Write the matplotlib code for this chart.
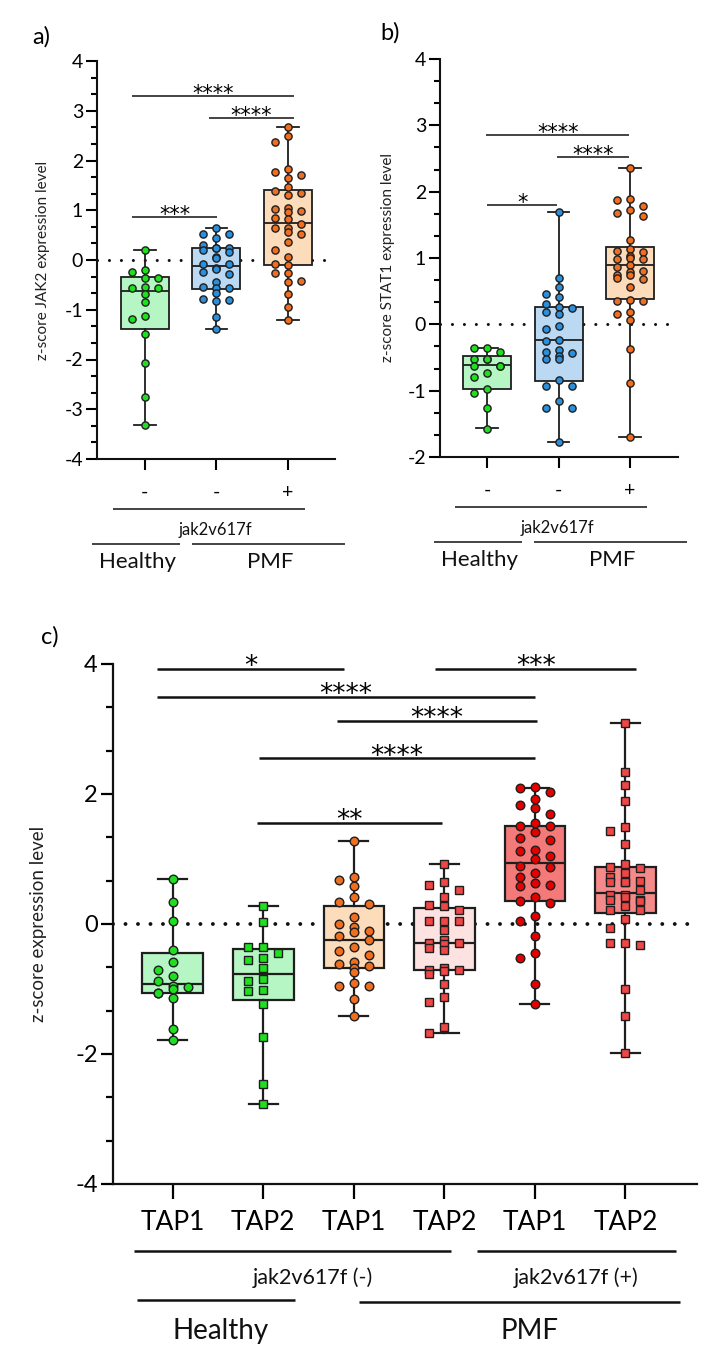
"""
Box plots de z-score (JAK2, STAT1 e TAP1/TAP2) com pontos individuais em enxame.
"""
import numpy as np
import matplotlib
matplotlib.use('Agg')
import matplotlib.pyplot as plt
import matplotlib.transforms as mtransforms
from matplotlib.ticker import MultipleLocator

plt.rcParams['font.family'] = ['Lato', 'DejaVu Sans']
plt.rcParams['axes.unicode_minus'] = False

# ---- painel a: JAK2 ----
a_healthy = [0.21, -0.21, -0.24, -0.37, -0.37, -0.54, -0.57, -0.57, -0.68, -0.85,
             -1.12, -1.18, -1.49, -2.07, -2.76, -3.31]
a_pmf_neg = [0.65, 0.52, 0.52, 0.45, 0.31, 0.25, 0.25, 0.24, 0.20, 0.17, 0.07, 0.05,
             -0.08, -0.08, -0.17, -0.19, -0.25, -0.29, -0.44, -0.55, -0.57, -0.57,
             -0.67, -0.78, -0.81, -0.82, -1.14, -1.39]
a_pmf_pos = [2.68, 2.49, 2.38, 1.82, 1.76, 1.71, 1.64, 1.47, 1.39, 1.35, 1.31, 1.04,
             1.02, 0.98, 0.97, 0.84, 0.82, 0.72, 0.65, 0.64, 0.56, 0.52, 0.37, 0.21,
             0.07, -0.08, -0.10, -0.27, -0.27, -0.42, -0.44, -0.68, -0.94, -1.21]
# min, q1, mediana, q3, max
a_box = [(-3.31, -1.39, -0.62, -0.35, 0.21),
         (-1.39, -0.58, -0.13, 0.25, 0.65),
         (-1.21, -0.11, 0.75, 1.41, 2.68)]

# ---- painel b: STAT1 ----
b_healthy = [-0.36, -0.36, -0.41, -0.52, -0.52, -0.52, -0.63, -0.63, -0.63, -0.74,
             -0.79, -0.98, -1.03, -1.26, -1.58]
b_pmf_neg = [1.69, 0.70, 0.56, 0.45, 0.41, 0.31, 0.26, 0.24, 0.18, 0.16, -0.02, -0.07,
             -0.23, -0.25, -0.38, -0.41, -0.43, -0.48, -0.53, -0.53, -0.84, -0.93,
             -0.93, -1.16, -1.26, -1.26, -1.78]
b_pmf_pos = [2.35, 1.89, 1.87, 1.78, 1.73, 1.68, 1.64, 1.27, 1.13, 1.11, 1.09, 1.03,
             1.00, 0.99, 0.99, 0.89, 0.86, 0.80, 0.79, 0.75, 0.75, 0.70, 0.69, 0.57,
             0.37, 0.35, 0.35, 0.19, 0.16, 0.06, -0.37, -0.89, -1.70]
b_box = [(-1.57, -0.98, -0.62, -0.48, -0.36),
         (-1.78, -0.86, -0.24, 0.26, 1.69),
         (-1.70, 0.38, 0.89, 1.17, 2.35)]

# ---- painel c: TAP1 / TAP2 ----
c_healthy_tap1 = [0.70, 0.34, 0.04, -0.40, -0.58, -0.71, -0.80, -0.88, -0.95, -0.97,
                  -1.00, -1.06, -1.06, -1.14, -1.61, -1.79]
c_healthy_tap2 = [0.28, 0.03, -0.35, -0.35, -0.45, -0.52, -0.55, -0.67, -0.85, -0.88,
                  -1.01, -1.03, -1.23, -1.74, -2.46, -2.77]
c_neg_tap1 = [1.27, 0.73, 0.68, 0.58, 0.41, 0.34, 0.31, 0.11, 0.00, -0.04, -0.10,
              -0.13, -0.19, -0.25, -0.35, -0.41, -0.48, -0.58, -0.61, -0.65, -0.68,
              -0.74, -0.90, -0.96, -0.96, -1.16, -1.42]
c_neg_tap2 = [0.92, 0.64, 0.60, 0.52, 0.42, 0.29, 0.27, 0.22, 0.05, 0.04, 0.04, -0.09,
              -0.24, -0.29, -0.29, -0.31, -0.37, -0.40, -0.67, -0.70, -0.70, -0.73,
              -0.77, -0.93, -1.12, -1.20, -1.58, -1.68]
c_pos_tap1 = [2.11, 2.10, 2.03, 1.93, 1.83, 1.79, 1.70, 1.56, 1.51, 1.51, 1.41, 1.33,
              1.30, 1.14, 1.13, 1.04, 1.00, 0.89, 0.88, 0.79, 0.72, 0.63, 0.60, 0.58,
              0.42, 0.35, 0.33, 0.12, 0.05, -0.18, -0.44, -0.53, -0.92, -1.23]
c_pos_tap2 = [3.09, 2.34, 2.14, 1.90, 1.50, 1.43, 1.23, 0.93, 0.87, 0.86, 0.78, 0.73,
              0.66, 0.65, 0.64, 0.64, 0.52, 0.45, 0.45, 0.42, 0.37, 0.37, 0.35, 0.28,
              0.21, 0.21, 0.07, -0.06, -0.29, -0.29, -0.32, -1.00, -1.41, -1.98]
c_box = [(-1.79, -1.06, -0.92, -0.44, 0.70),
         (-2.77, -1.17, -0.77, -0.38, 0.28),
         (-1.42, -0.67, -0.24, 0.27, 1.27),
         (-1.68, -0.70, -0.29, 0.24, 0.92),
         (-1.23, 0.35, 0.94, 1.51, 2.10),
         (-1.98, 0.17, 0.47, 0.88, 3.09)]

ab_signs = ['-', '-', '+']
c_tap_labels = ['TAP1', 'TAP2', 'TAP1', 'TAP2', 'TAP1', 'TAP2']

GREEN, BLUE, ORANGE = '#1fe01f', '#2b8fdc', '#f06e20'
RED_SQ, RED_C = '#f04646', '#e50000'
EDGE = '#1e1e1e'


def to_stats(rows):
    return [dict(whislo=r[0], q1=r[1], med=r[2], q3=r[3], whishi=r[4], fliers=[]) for r in rows]


def swarm_x(ax, x0, values, diam, step, max_off):
    # enxame simples em pixels, limitado a +-max_off; se não couber, aceita a menor sobreposição
    tr = ax.transData.transform
    px_per_x = tr((1, 0))[0] - tr((0, 0))[0]
    ys = tr(np.column_stack([np.full(len(values), x0), values]))[:, 1]
    half = step / 2
    cands = [0.0]
    k = 1
    while k * half <= max_off + 0.01:
        cands += [-k * half, k * half]
        k += 1
    placed = []
    offs = np.zeros(len(values))
    for i in np.argsort(-ys):
        y = ys[i]
        best, best_hits = cands[0], None
        for c in cands:
            hits = sum(1 for px, py in placed if abs(c - px) < step - 0.01 and abs(y - py) < diam)
            if best_hits is None or hits < best_hits:
                best, best_hits = c, hits
            if hits == 0:
                break
        placed.append((best, y))
        offs[i] = best / px_per_x
    return x0 + offs


def draw_groups(ax, groups, box_rows, faces, fills, markers, msizes, diam, step, max_off, lw, capw):
    pos = np.arange(len(groups))
    bp = ax.bxp(to_stats(box_rows), positions=pos, widths=0.67, capwidths=capw,
                patch_artist=True, showfliers=False, zorder=2,
                boxprops=dict(linewidth=lw, edgecolor=EDGE),
                whiskerprops=dict(linewidth=lw, color=EDGE),
                capprops=dict(linewidth=lw, color=EDGE),
                medianprops=dict(linewidth=lw, color=EDGE))
    for patch, fc in zip(bp['boxes'], fills):
        patch.set_facecolor(fc)
    for i, vals in enumerate(groups):
        xs = swarm_x(ax, pos[i], vals, diam, step, max_off)
        ax.plot(xs, vals, linestyle='none', marker=markers[i], markersize=msizes[i],
                markerfacecolor=faces[i], markeredgecolor=EDGE, markeredgewidth=1.0, zorder=3)


def style_axes(ax, ylim, xlim, major, minor, spine_lw, tick_fs, maj_len, min_len, x_len, x_pad):
    ax.set_xlim(*xlim)
    ax.set_ylim(*ylim)
    for s in ['top', 'right']:
        ax.spines[s].set_visible(False)
    for s in ['left', 'bottom']:
        ax.spines[s].set_linewidth(spine_lw)
        ax.spines[s].set_color('#111111')
    ax.yaxis.set_major_locator(MultipleLocator(major))
    ax.yaxis.set_minor_locator(MultipleLocator(minor))
    ax.tick_params(axis='y', which='major', length=maj_len, width=spine_lw, labelsize=tick_fs, pad=2)
    ax.tick_params(axis='y', which='minor', length=min_len, width=spine_lw)
    ax.tick_params(axis='x', which='major', length=x_len, width=spine_lw, pad=x_pad)
    ticks = np.arange(ylim[0], ylim[1] + 0.01, major)
    ax.set_yticks(ticks)
    ax.set_yticklabels([f'{int(v)}' for v in ticks])


def zero_line(ax, lw, gap):
    ax.axhline(0, color='#111111', lw=lw, linestyle=(0, (0.01, gap)),
               dash_capstyle='round', zorder=1)


def bracket(ax, x1, x2, y, label, fs, lw, dy):
    ax.plot([x1, x2], [y, y], color='#111111', lw=lw, solid_capstyle='butt', clip_on=False)
    ax.annotate(label, xy=((x1 + x2) / 2, y), xytext=(0, dy), textcoords='offset points',
                ha='center', va='baseline', fontsize=fs, family='DejaVu Sans')


def under_line(ax, x1, x2, y, lw):
    tr = mtransforms.blended_transform_factory(ax.transData, ax.transAxes)
    ax.plot([x1, x2], [y, y], color='#111111', lw=lw, transform=tr, clip_on=False,
            solid_capstyle='butt')


def under_text(ax, x, y, s, fs):
    tr = mtransforms.blended_transform_factory(ax.transData, ax.transAxes)
    ax.text(x, y, s, transform=tr, ha='center', va='center', fontsize=fs, color='#111111')


fig = plt.figure(figsize=(7.16, 13.68), dpi=100)

ax_a = fig.add_axes([97 / 716, 1 - 459 / 1368, 238 / 716, 398 / 1368])
ax_b = fig.add_axes([440 / 716, 1 - 457 / 1368, 238 / 716, 398 / 1368])
ax_c = fig.add_axes([113 / 716, 1 - 1184 / 1368, 584 / 716, 520 / 1368])

ab_fills = ['#b6f5c4', '#bcd9f4', '#fddcbb']

# ---- a ----
style_axes(ax_a, (-4, 4), (-0.67, 2.66), 1, 1 / 3, 1.5, 14, 8, 4.5, 8, 10)
zero_line(ax_a, 2.2, 3.9)
draw_groups(ax_a, [a_healthy, a_pmf_neg, a_pmf_pos], a_box, [GREEN, BLUE, ORANGE],
            ab_fills, ['o', 'o', 'o'], [5.2] * 3, 8, 13, 20, 1.3, 0.3)
ax_a.set_xticks(range(3), ab_signs, fontsize=14)
ax_a.set_ylabel('z-score JAK2 expression level', fontsize=11, color='#222222')
ax_a.yaxis.set_label_coords(-0.197, 0.5)
for x1, x2, y, lab in [(-0.18, 2.08, 3.29, '****'), (0.90, 2.08, 2.85, '****'),
                       (-0.18, 1.01, 0.86, '***')]:
    bracket(ax_a, x1, x2, y, lab, 15, 1.1, -3)

# ---- b ----
style_axes(ax_b, (-2, 4), (-0.66, 2.67), 1, 1 / 3, 1.5, 14, 8, 4.5, 8, 10)
zero_line(ax_b, 2.2, 3.9)
draw_groups(ax_b, [b_healthy, b_pmf_neg, b_pmf_pos], b_box, [GREEN, BLUE, ORANGE],
            ab_fills, ['o', 'o', 'o'], [5.2] * 3, 8, 13, 20, 1.3, 0.3)
ax_b.set_xticks(range(3), ab_signs, fontsize=14)
ax_b.set_ylabel('z-score STAT1 expression level', fontsize=11, color='#222222')
ax_b.yaxis.set_label_coords(-0.189, 0.5)
for x1, x2, y, lab in [(-0.01, 1.99, 2.86, '****'), (0.98, 1.99, 2.53, '****'),
                       (0.0, 0.98, 1.80, '*')]:
    bracket(ax_b, x1, x2, y, lab, 15, 1.1, -3)

for ax in (ax_a, ax_b):
    under_line(ax, -0.45, 2.24, -0.126, 1.1)
    under_text(ax, 0.98, -0.178, 'jak2v617f', 12)
    under_line(ax, -0.74, 0.49, -0.214, 1.1)
    under_line(ax, 0.66, 2.80, -0.214, 1.1)
    under_text(ax, -0.11, -0.259, 'Healthy', 16)
    under_text(ax, 1.75, -0.259, 'PMF', 16)

# ---- c ----
style_axes(ax_c, (-4, 4), (-0.66, 5.79), 2, 2 / 3, 1.6, 17, 9, 5, 11, 8)
zero_line(ax_c, 2.8, 3.2)
draw_groups(ax_c, [c_healthy_tap1, c_healthy_tap2, c_neg_tap1, c_neg_tap2, c_pos_tap1, c_pos_tap2],
            c_box, [GREEN, GREEN, ORANGE, RED_SQ, RED_C, RED_SQ],
            ['#b6f5c4', '#b6f5c4', '#fddcbb', '#fde2e2', '#f47a7a', '#f58a8a'],
            ['o', 's', 'o', 's', 'o', 's'], [6.2, 5.4, 6.2, 5.4, 6.2, 5.4], 9, 15, 26, 1.6, 0.32)
ax_c.set_xticks(range(6), c_tap_labels, fontsize=19)
ax_c.set_ylabel('z-score expression level', fontsize=13.5, color='#222222')
ax_c.yaxis.set_label_coords(-0.113, 0.5)
for x1, x2, y, lab in [(-0.17, 1.89, 3.93, '*'), (-0.17, 4.0, 3.50, '****'),
                       (1.81, 4.02, 3.13, '****'), (0.95, 4.0, 2.55, '****'),
                       (0.93, 2.97, 1.56, '**'), (2.90, 5.12, 3.93, '***')]:
    bracket(ax_c, x1, x2, y, lab, 19, 1.8, -4)

under_line(ax_c, -0.43, 3.07, -0.129, 1.8)
under_line(ax_c, 3.36, 5.56, -0.129, 1.8)
under_text(ax_c, 1.55, -0.181, 'jak2v617f (-)', 15.5)
under_text(ax_c, 4.45, -0.181, 'jak2v617f (+)', 15.5)
under_line(ax_c, -0.39, 1.35, -0.223, 1.8)
under_line(ax_c, 2.06, 5.60, -0.227, 1.8)
under_text(ax_c, 0.53, -0.283, 'Healthy', 20)
under_text(ax_c, 3.94, -0.283, 'PMF', 20)

fig.text(41 / 716, 1 - 37 / 1368, 'a)', fontsize=17, ha='center', va='center')
fig.text(390 / 716, 1 - 33 / 1368, 'b)', fontsize=17, ha='center', va='center')
fig.text(50 / 716, 1 - 637 / 1368, 'c)', fontsize=17, ha='center', va='center')

fig.savefig('out.png', dpi=100)
